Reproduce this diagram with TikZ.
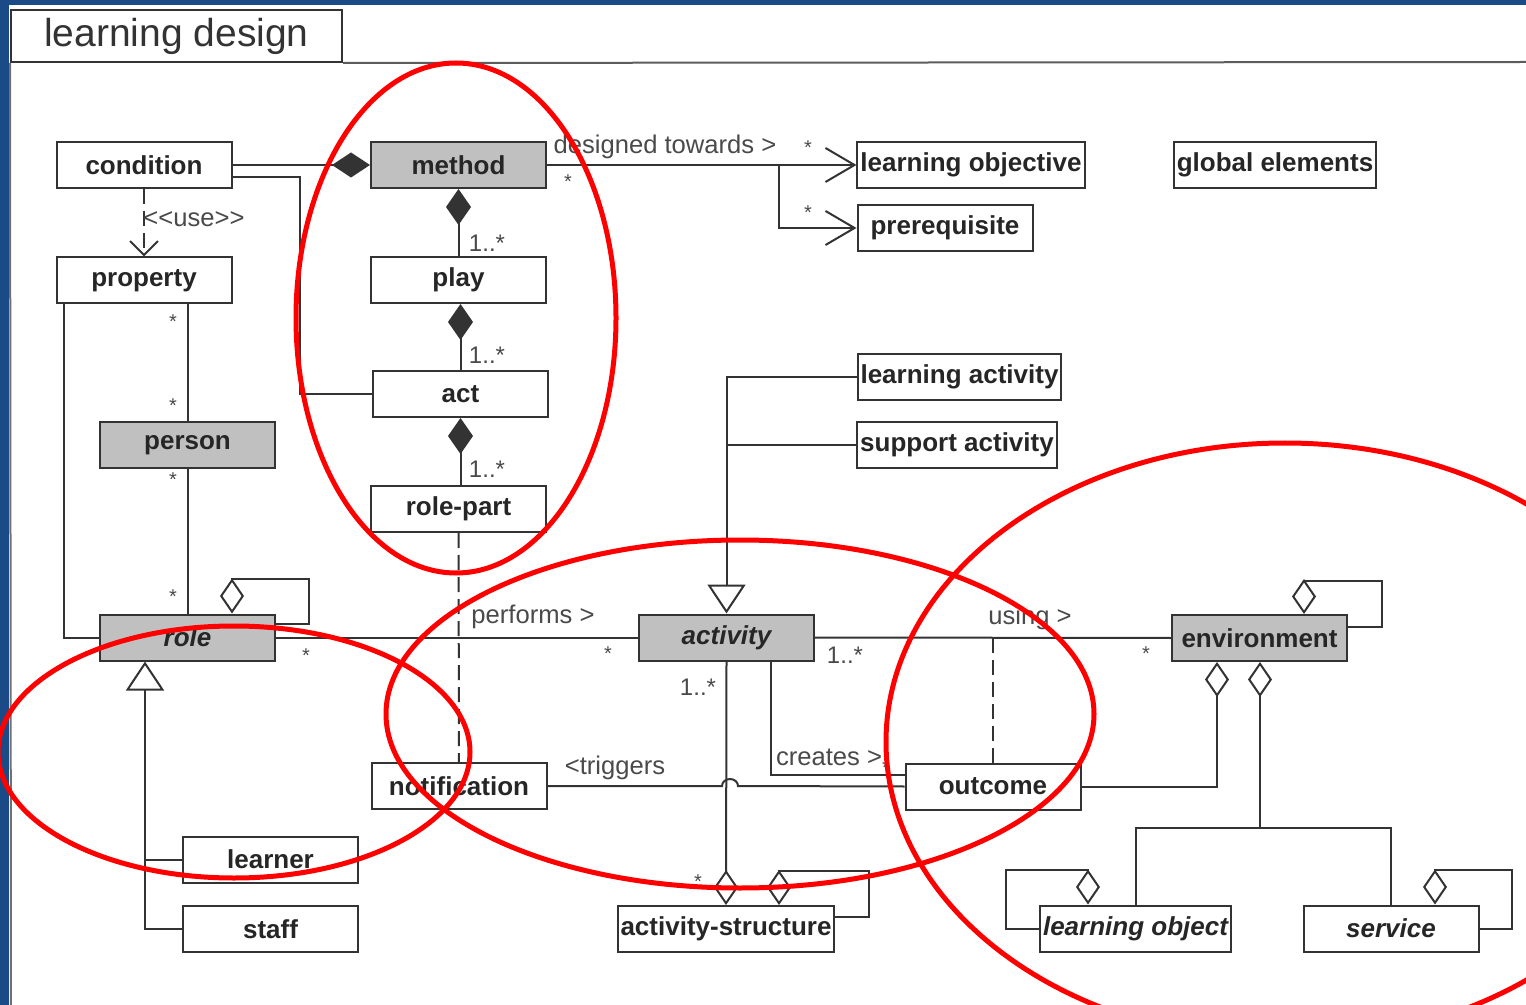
\documentclass[tikz,border=0pt]{standalone}
\usepackage{fontspec}
\setmainfont{Liberation Sans}
\usetikzlibrary{arrows.meta}
\definecolor{ldblue}{HTML}{1B4B87}
\definecolor{boxgray}{HTML}{C0C0C0}
\definecolor{linegray}{HTML}{333333}
\definecolor{lblgray}{HTML}{4A4A4A}

\begin{document}
\begin{tikzpicture}[x=0.5pt,y=-0.5pt,
   cls/.style={draw=linegray,line width=1pt,fill=white,text=black!85,
     font=\fontsize{13}{15}\selectfont\bfseries,minimum width=87.5pt,
     minimum height=23pt,inner xsep=1.5pt,inner ysep=0pt},
   absc/.style={cls,fill=boxgray},
   ital/.style={font=\fontsize{13}{15}\selectfont\bfseries\itshape},
   lbl/.style={text=lblgray,font=\fontsize{12.8}{14}\selectfont,inner sep=0pt},
   mult/.style={lbl,font=\fontsize{12}{14}\selectfont},
   star/.style={lbl,font=\fontsize{10}{12}\selectfont},
   assoc/.style={draw=linegray,line width=1pt},
   dep/.style={assoc,dash pattern=on 7.5pt off 3.5pt},
   comp/.style={assoc,{Diamond[length=18pt,width=12.5pt]}-},
   aggr/.style={assoc,{Diamond[open,length=17.5pt,width=12pt]}-},
   gen/.style={assoc,-{Triangle[open,length=14.5pt,width=19pt]}},
   nav/.style={assoc,-{Straight Barb[length=14.5pt,width=17pt]}},
   ring/.style={draw=red,line width=2.5pt}]
\useasboundingbox (0,0) rectangle (1526,1005);
\fill[white] (0,0) rectangle (1526,1005);
\fill[ldblue] (0,0) rectangle (1526,5);
\fill[ldblue] (0,0) rectangle (9,1005);

\node[draw=linegray,line width=1pt,minimum width=165.5pt,minimum height=26pt,
   font=\fontsize{19.5}{22}\selectfont,text=black!80] (title) at (176.5,36) {learning design};
\draw[linegray!80,line width=1pt] (title.south east) -- (1526,62);
\draw[linegray!70,line width=1pt] (title.south west) -- (11,1005);

\node[cls] (condition) at (144,165) {condition};
\node[absc] (method) at (458.5,165) {method};
\node[cls] (play) at (458.5,280) {play};
\node[cls] (act) at (460.5,394) {act};
\node[cls] (rolepart) at (458.5,509) {role-part};
\node[cls] (property) at (144,280.5) {property};
\node[absc] (person) at (187.5,445.5) {person};
\node[absc,ital] (role) at (187.5,637.5) {role};
\node[cls] (learner) at (270.5,859.5) {learner};
\node[cls] (staff) at (270.5,929) {staff};
\node[cls] (notification) at (459,786) {notification};
\node[absc,ital] (activity) at (726.5,637.5) {activity};
\node[cls] (actstruct) at (726,929) {activity-structure};
\node[cls] (outcome) at (993,786.5) {outcome};
\node[absc] (environment) at (1259.5,638) {environment};
\node[cls,ital] (lobject) at (1135.5,928.5) {learning object};
\node[cls,ital] (service) at (1391,928.5) {service};
\node[cls] (lobjective) at (971,165) {learning objective};
\node[cls] (prereq) at (945,228) {prerequisite};
\node[cls] (global) at (1275,165) {global elements};
\node[cls] (lactivity) at (959.5,377) {learning activity};
\node[cls] (sactivity) at (957,445) {support activity};

\draw[assoc,-{Diamond[length=19pt,width=12.5pt]}] (condition.east) -- (method.west);
\draw[assoc] (condition.east |- 0,177) -- (300,177) |- (act.west);
\draw[dep,-{Straight Barb[length=7pt,width=14pt]}] (condition) -- (property);
\node[lbl] at (194,219) {<\kern0pt<use>\kern0pt>};

\draw[comp] (method) -- (play);
\draw[comp] (play.south -| act.north) -- (act);
\draw[comp] (act) -- (act.south |- rolepart.north);
\node[mult] at (487,243) {1..*};
\node[mult] at (487,355) {1..*};
\node[mult] at (487,469) {1..*};

\draw[nav] (method.east) -- (lobjective.west);
\coordinate (fork) at (779,165);
\draw[nav] (fork) |- (prereq.west);
\node[lbl] at (665,147) {designed towards >};
\node[star] at (568,182) {*};
\node[star] at (808,148) {*};
\node[star] at (808,213) {*};

\draw[assoc] ([xshift=4pt]property.south west) |- (role.west);
\draw[assoc] (property.south -| person.north) -- (person.north);
\draw[assoc] (person) -- (role);
\node[star] at (173,322) {*};
\node[star] at (173,406) {*};
\node[star] at (173,480) {*};
\node[star] at (173,597) {*};
\draw[aggr] (role.north -| 232,0) -- (232,579) -- (309,579) |- (role.east |- 0,624);

\draw[gen] (staff.west) -| (role.south -| 145,0);
\draw[assoc] (learner.west) -- (learner.west -| 145,0);

\draw[assoc] (role.east) -- (activity.west);
\node[star] at (306,656) {*};
\node[lbl] at (533,617) {performs >};
\node[star] at (608,654) {*};
\draw[dep] (rolepart) -- (notification);

\draw[assoc] (notification.east) -- (722,786)
   arc[start angle=180,end angle=0,x radius=4pt,y radius=3.5pt] -- (outcome.west);
\node[lbl] at (615,768) {<triggers};

\draw[gen] (lactivity.west) -| (activity.north);
\draw[assoc] (sactivity.west) -- (sactivity.west -| activity.north);

\draw[assoc] (activity.south -| 771,0) |- (outcome.west |- 0,775);
\node[lbl] at (829,757) {creates >};
\node[star] at (886,768) {*};

\draw[assoc,-{Diamond[open,length=17.5pt,width=12pt]}] (activity.south) -- (actstruct.north);
\node[mult] at (698,687) {1..*};
\node[star] at (698,882) {*};
\draw[aggr] (actstruct.north -| 779,0) -- (779,871) -- (869,871) |- (actstruct.east |- 0,917);

\draw[assoc] (activity.east) -- (environment.west);
\node[mult] at (845,655) {1..*};
\node[lbl] at (1030,618) {using >};
\node[star] at (1146,654) {*};
\draw[dep] (outcome.north) -- (outcome.north |- activity.east);

\draw[aggr] (environment.north -| 1304,0) -- (1304,581) -- (1382,581) |- (environment.east |- 0,627);
\draw[aggr] (environment.south -| 1217,0) |- (outcome.east);
\draw[aggr] (environment.south -| 1260,0) -- (1260,828);
\draw[assoc] (lobject.north) |- (1260,828) -| (service.north);
\draw[aggr] (lobject.north -| 1088,0) -- (1088,870) -- (1006,870) |- (lobject.west |- 0,929);
\draw[aggr] (service.north -| 1435,0) -- (1435,870) -- (1512,870) |- (service.east |- 0,929);

\draw[ring] (456,318) ellipse[x radius=80pt,y radius=127.5pt];
\draw[ring] (234,752) ellipse[x radius=118pt,y radius=63pt];
\draw[ring] (740,714) ellipse[x radius=177pt,y radius=87pt];
\draw[ring] (1285,742) ellipse[x radius=199.5pt,y radius=149.5pt];
\end{tikzpicture}
\end{document}
